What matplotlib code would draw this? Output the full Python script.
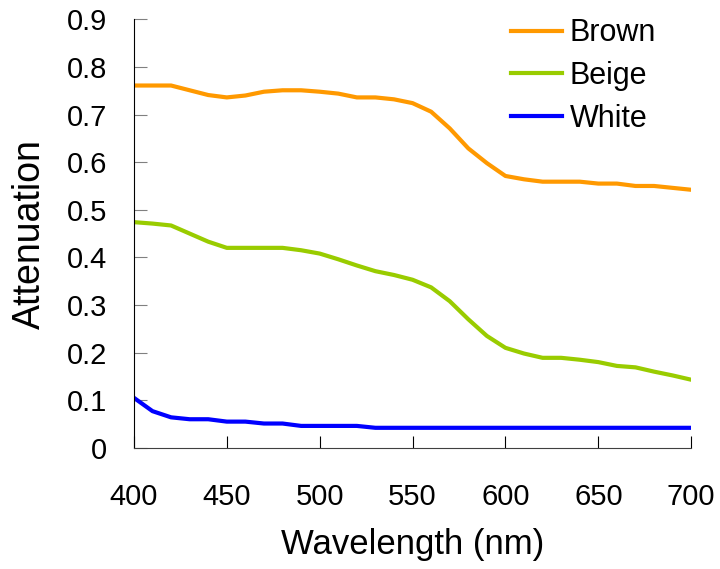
import matplotlib
matplotlib.use('Agg')
import matplotlib.pyplot as plt

wavelength = [400, 410, 420, 430, 440, 450, 460, 470, 480, 490, 500,
              510, 520, 530, 540, 550, 560, 570, 580, 590, 600,
              610, 620, 630, 640, 650, 660, 670, 680, 690, 700]
brown = [0.761, 0.761, 0.761, 0.751, 0.741, 0.736, 0.740, 0.748, 0.751, 0.751, 0.748,
         0.744, 0.736, 0.736, 0.732, 0.724, 0.706, 0.671, 0.629, 0.598, 0.571,
         0.564, 0.559, 0.559, 0.559, 0.555, 0.555, 0.550, 0.550, 0.546, 0.542]
beige = [0.474, 0.471, 0.467, 0.450, 0.433, 0.420, 0.420, 0.420, 0.420, 0.415, 0.408,
         0.396, 0.383, 0.371, 0.363, 0.353, 0.337, 0.308, 0.270, 0.235, 0.210,
         0.198, 0.189, 0.189, 0.185, 0.180, 0.172, 0.169, 0.160, 0.152, 0.143]
white = [0.105, 0.077, 0.064, 0.060, 0.060, 0.055, 0.055, 0.051, 0.051, 0.046, 0.046,
         0.046, 0.046, 0.042, 0.042, 0.042, 0.042, 0.042, 0.042, 0.042, 0.042,
         0.042, 0.042, 0.042, 0.042, 0.042, 0.042, 0.042, 0.042, 0.042, 0.042]
yticks = [0, 0.1, 0.2, 0.3, 0.4, 0.5, 0.6, 0.7, 0.8, 0.9]
ylabels = ['0', '0.1', '0.2', '0.3', '0.4', '0.5', '0.6', '0.7', '0.8', '0.9']
xticks = [400, 450, 500, 550, 600, 650, 700]

plt.rcParams['font.family'] = ['Liberation Sans', 'DejaVu Sans']

fig = plt.figure(figsize=(7.2, 5.69), dpi=100)
ax = fig.add_axes([0.186, 0.213, 0.774, 0.753])

ax.plot(wavelength, brown, color='#FF9900', lw=3, label='Brown')
ax.plot(wavelength, beige, color='#99CC00', lw=3, label='Beige')
ax.plot(wavelength, white, color='#0000FF', lw=3, label='White')

ax.set_xlim(400, 700)
ax.set_ylim(0, 0.9)
ax.set_xticks(xticks)
ax.set_yticks(yticks)
ax.set_yticklabels(ylabels)
ax.tick_params(axis='both', direction='in', length=9, labelsize=21)
ax.tick_params(axis='x', pad=25.5)
ax.tick_params(axis='y', color='#808080', pad=19.5)
ax.spines['top'].set_visible(False)
ax.spines['right'].set_visible(False)
ax.spines['bottom'].set_color('#404040')

ax.set_xlabel('Wavelength (nm)', fontsize=25, labelpad=12)
ax.set_ylabel('Attenuation', fontsize=27, labelpad=13)

fig.legend(loc='upper left', bbox_to_anchor=(0.7097, 0.968), frameon=False,
           fontsize=22, handlelength=1.67, handletextpad=0.26, labelspacing=0.42,
           borderpad=0, borderaxespad=0)

fig.savefig('out.png', dpi=100)
